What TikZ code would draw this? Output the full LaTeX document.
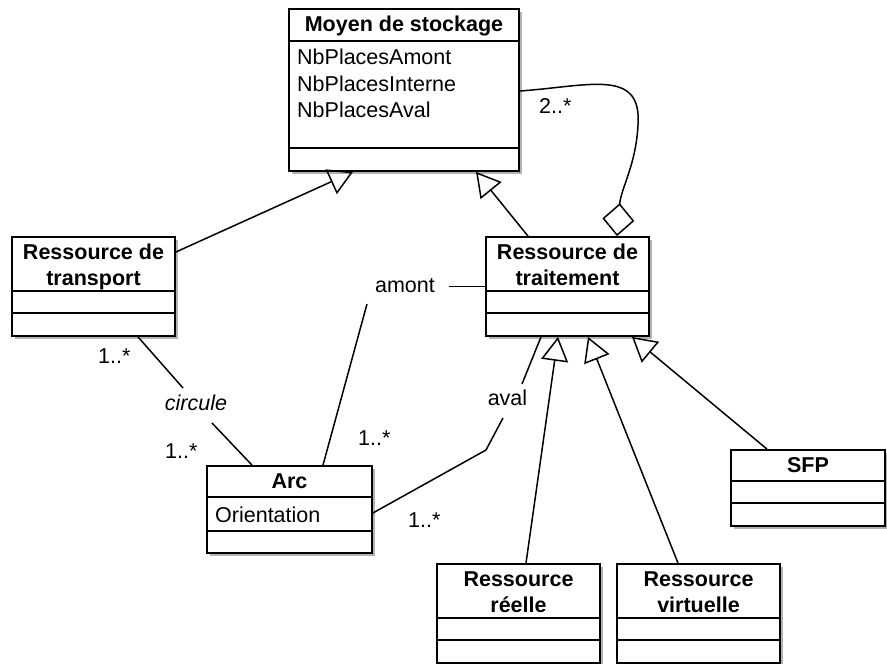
\documentclass[tikz,border=0pt]{standalone}
\usepackage{fontspec}
\setmainfont{Liberation Sans}
\usetikzlibrary{arrows.meta,shadows}
% class box: name, centre x, centre y, width, height, first and second separator (from top)
\newcommand\umlclass[7]{%
  \node[classbox, minimum width=#4pt, minimum height=#5pt] (#1) at (#2,#3) {};
  \draw[sepline] ([yshift=-#6pt]#1.north west) -- ([yshift=-#6pt]#1.north east);
  \draw[sepline] ([yshift=-#7pt]#1.north west) -- ([yshift=-#7pt]#1.north east);
}
\begin{document}
\begin{tikzpicture}[x=1pt,y=-1pt,
  every node/.style={font=\fontsize{21.5}{26}\selectfont},
  classbox/.style={draw, rectangle, line width=1.8pt, fill=white, inner sep=0pt,
    drop shadow={shadow xshift=2.5pt, shadow yshift=-2.5pt, opacity=0.3, fill=black}},
  sepline/.style={line width=1.7pt},
  ctitle/.style={font=\fontsize{21.5}{26}\selectfont\bfseries, align=center, inner sep=0pt, anchor=base},
  cattr/.style={inner sep=0pt, anchor=base west},
  mult/.style={inner sep=0pt, anchor=base west},
  role/.style={inner sep=0pt, anchor=base},
  assoc/.style={line width=1.5pt},
  inherit/.style={line width=1.5pt, -{Triangle[open, length=24pt, width=27pt]}},
  aggr/.style={line width=1.5pt, -{Diamond[open, length=33pt, width=32pt]}},
]
\fill[white] (0,0) rectangle (887,664);
\useasboundingbox (0,0) rectangle (887,664);

% classes
\umlclass{moyen}{404}{90}{230}{162}{33}{140}
\umlclass{transport}{93.5}{286.5}{163}{99}{55}{77}
\umlclass{traitement}{567.5}{286.5}{163}{99}{55}{77}
\umlclass{arc}{289.5}{509.5}{165}{87}{32}{66}
\umlclass{reelle}{518.5}{613.5}{163}{99}{55}{77}
\umlclass{virtuelle}{698.5}{613.5}{163}{99}{55}{77}
\umlclass{sfp}{808}{488}{154}{76}{32}{54}

% class names (base = baseline of the last line)
\node[ctitle] (moyenT) at (404,31) {Moyen de stockage};
\node[ctitle] (transportT) at (93.5,285) {Ressource de\\transport};
\node[ctitle] (traitementT) at (567.5,285) {Ressource de\\traitement};
\node[ctitle] (arcT) at (289.5,488) {Arc};
\node[ctitle] (reelleT) at (518.5,612) {Ressource\\réelle};
\node[ctitle] (virtuelleT) at (698.5,612) {Ressource\\virtuelle};
\node[ctitle] (sfpT) at (808,472) {SFP};

% attributes
\node[cattr] (attrA) at (297,64) {NbPlacesAmont};
\node[cattr] (attrI) at (297,91) {NbPlacesInterne};
\node[cattr] (attrV) at (297,117) {NbPlacesAval};
\node[cattr] (attrO) at (215,522) {Orientation};

% generalisations
\draw[inherit] ([yshift=34.5pt]transport.east) -- ([xshift=-51pt]moyen.south);
\draw[inherit] ([xshift=-39.5pt]traitement.north) -- ([xshift=72pt]moyen.south);
\draw[inherit] ([xshift=7.5pt]reelle.north) -- ([xshift=-9.5pt]traitement.south);
\draw[inherit] ([xshift=-20.5pt]virtuelle.north) -- ([xshift=20.5pt]traitement.south);
\draw[inherit] ([xshift=-41pt]sfp.north) -- ([xshift=64.5pt]traitement.south);

% aggregation
\draw[aggr] ([yshift=-1pt]moyen.east) .. controls (590,86) and (642,68) .. (638,125)
  .. controls (636,165) and (621,188) .. ([xshift=49.5pt]traitement.north);
\node[mult] (m2) at (539,113) {2..*};

% association "circule"
\node[role, font=\fontsize{21.5}{26}\selectfont\itshape] (circ) at (196,410) {circule};
\coordinate (circA) at (183,388);
\coordinate (circB) at (212,423);
\draw[assoc] ([xshift=44.5pt]transport.south) -- (circA);
\draw[assoc] (circB) -- ([xshift=-37.5pt]arc.north);
\node[mult] (m1t) at (98,363) {1..*};
\node[mult] (m1c) at (165,458) {1..*};

% association "amont"
\node[role] (amont) at (405,292) {amont};
\coordinate (amontA) at (367,304);
\coordinate (amontB) at (449,286.5);
\draw[assoc] ([xshift=33.5pt]arc.north) -- (amontA);
\draw[assoc] (amontB) -- (traitement.west);
\node[mult] (m1a) at (358,445) {1..*};

% association "aval"
\node[role] (aval) at (507.5,405) {aval};
\coordinate (avalA) at (486,450);
\coordinate (avalB) at (503,418);
\coordinate (avalC) at (522,384);
\draw[assoc] ([yshift=-3.5pt]arc.east) -- (avalA) -- (avalB);
\draw[assoc] (avalC) -- ([xshift=-26.5pt]traitement.south);
\node[mult] (m1v) at (408,527) {1..*};
\end{tikzpicture}
\end{document}
